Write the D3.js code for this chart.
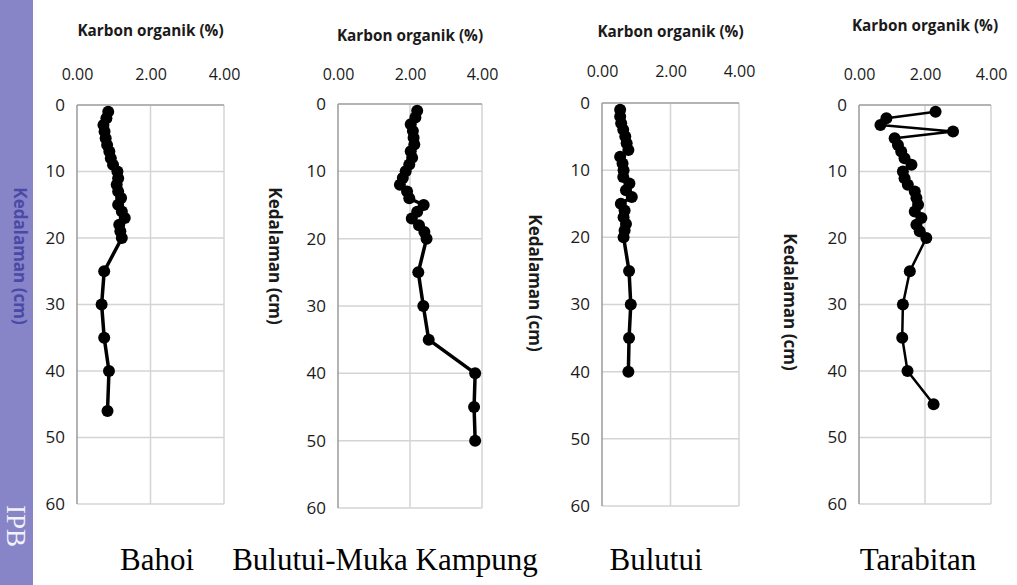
<!DOCTYPE html>
<html>
<head>
<meta charset="utf-8">
<script src="https://cdn.jsdelivr.net/npm/d3@7"></script>
<style>
  body { margin: 0; background: #fff; }
  svg { display: block; }
</style>
</head>
<body>
<svg width="1017" height="585"></svg>
<script>
const width = 1017;
const height = 585;

// depth (cm) and organic carbon (%) per site
const bahoiDepth = [1, 2, 3, 4, 5, 6, 7, 8, 9, 10, 11, 12, 13, 14, 15, 16, 17, 18, 19, 20, 25, 30, 35, 40, 46];
const bahoiC = [0.85, 0.80, 0.72, 0.75, 0.78, 0.82, 0.88, 0.92, 0.98, 1.10, 1.12, 1.08, 1.12, 1.20, 1.12, 1.22, 1.30, 1.15, 1.18, 1.22, 0.74, 0.67, 0.74, 0.87, 0.83];

const mukaDepth = [1, 2, 3, 4, 5, 6, 7, 8, 9, 10, 11, 12, 13, 14, 15, 16, 17, 18, 19, 20, 25, 30, 35, 40, 45, 50];
const mukaC = [2.20, 2.15, 2.02, 2.08, 2.10, 2.12, 2.02, 2.06, 1.98, 1.88, 1.80, 1.72, 1.92, 1.98, 2.38, 2.20, 2.05, 2.25, 2.40, 2.46, 2.23, 2.37, 2.52, 3.81, 3.78, 3.81];

const bulutuiDepth = [1, 2, 3, 4, 5, 6, 7, 8, 9, 10, 11, 12, 13, 14, 15, 16, 17, 18, 19, 20, 25, 30, 35, 40];
const bulutuiC = [0.53, 0.53, 0.56, 0.62, 0.68, 0.72, 0.77, 0.53, 0.60, 0.63, 0.62, 0.80, 0.70, 0.87, 0.55, 0.66, 0.63, 0.70, 0.66, 0.63, 0.79, 0.84, 0.79, 0.77];

const taraDepth = [1, 2, 3, 4, 5, 6, 7, 8, 9, 10, 11, 12, 13, 14, 15, 16, 17, 18, 19, 20, 25, 30, 35, 40, 45];
const taraC = [2.32, 0.83, 0.65, 2.85, 1.08, 1.18, 1.28, 1.38, 1.59, 1.33, 1.38, 1.48, 1.69, 1.74, 1.79, 1.69, 1.89, 1.74, 1.84, 2.04, 1.54, 1.33, 1.31, 1.47, 2.26];

const xTicks = [0, 2, 4];
const yTicks = [0, 10, 20, 30, 40, 50, 60];
const siteNames = ["Bahoi", "Bulutui-Muka Kampung", "Bulutui", "Tarabitan"];
const xTitle = "Karbon organik (%)";
const yTitle = "Kedalaman (cm)";

const panels = [
  {name: siteNames[0], depth: bahoiDepth, c: bahoiC, x0: 77, x1: 224, y0: 105, y1: 504, titleY: 30, tickY: 76, labelX: 157, yTitleX: 20, yTitleY: 256, stroke: 3.5},
  {name: siteNames[1], depth: mukaDepth, c: mukaC, x0: 338, x1: 482, y0: 104, y1: 508, titleY: 35, tickY: 76, labelX: 385, yTitleX: 275, yTitleY: 256, stroke: 3.5},
  {name: siteNames[2], depth: bulutuiDepth, c: bulutuiC, x0: 602, x1: 739, y0: 103, y1: 506, titleY: 31, tickY: 73, labelX: 656, yTitleX: 535, yTitleY: 283, stroke: 3.5},
  {name: siteNames[3], depth: taraDepth, c: taraC, x0: 859, x1: 991, y0: 105, y1: 504, titleY: 25, tickY: 76, labelX: 918, yTitleX: 790, yTitleY: 302, stroke: 2.5}
];

const svg = d3.select("svg");

// purple side strip with watermark
svg.append("rect").attr("x", 0).attr("y", 0).attr("width", 33).attr("height", height).attr("fill", "#8785c8");
svg.append("text")
  .attr("transform", "translate(7,505) rotate(90)")
  .attr("font-family", "Liberation Serif, serif")
  .attr("font-size", 27)
  .attr("fill", "#f2f2fa")
  .text("IPB");

panels.forEach(function (p, i) {
  const x = d3.scaleLinear().domain([0, 4]).range([p.x0, p.x1]);
  const y = d3.scaleLinear().domain([0, 60]).range([p.y0, p.y1]);
  const g = svg.append("g");

  // grid
  g.selectAll(".gx").data(xTicks.slice(1)).join("line")
    .attr("x1", d => x(d)).attr("x2", d => x(d))
    .attr("y1", p.y0).attr("y2", p.y1)
    .attr("stroke", "#d4d4d4").attr("stroke-width", 1.5);
  g.selectAll(".gy").data(yTicks).join("line")
    .attr("x1", p.x0).attr("x2", p.x1)
    .attr("y1", d => y(d)).attr("y2", d => y(d))
    .attr("stroke", "#d4d4d4").attr("stroke-width", 1.5);
  // axis lines
  g.append("line").attr("x1", p.x0).attr("x2", p.x0).attr("y1", p.y0).attr("y2", p.y1)
    .attr("stroke", "#9a9a9a").attr("stroke-width", 1.5);
  g.append("line").attr("x1", p.x0).attr("x2", p.x1).attr("y1", p.y0).attr("y2", p.y0)
    .attr("stroke", "#a6a6a6").attr("stroke-width", 1.5);

  // top axis labels
  const xAxis = d3.axisTop(x).tickValues(xTicks).tickFormat(d3.format(".2f")).tickSize(0);
  const ax = g.append("g").attr("transform", `translate(0,${p.tickY + 7})`).call(xAxis);
  ax.select(".domain").remove();
  ax.selectAll("text").attr("font-family", "Open Sans, sans-serif").attr("font-size", 16).attr("fill", "#1a1a1a");

  // left axis labels
  const yAxis = d3.axisLeft(y).tickValues(yTicks).tickSize(0).tickPadding(12);
  const ay = g.append("g").attr("transform", `translate(${p.x0},0)`).call(yAxis);
  ay.select(".domain").remove();
  ay.selectAll("text").attr("font-family", "Open Sans, sans-serif").attr("font-size", 17).attr("fill", "#1a1a1a");

  // titles
  g.append("text").attr("x", (p.x0 + p.x1) / 2).attr("y", p.titleY + 6)
    .attr("text-anchor", "middle")
    .attr("font-family", "Open Sans, sans-serif").attr("font-weight", "bold")
    .attr("font-size", 15.3).attr("fill", "#1a1a1a")
    .text(xTitle);
  g.append("text")
    .attr("transform", `translate(${p.yTitleX},${p.yTitleY}) rotate(90)`)
    .attr("text-anchor", "middle").attr("dy", "0.35em")
    .attr("font-family", "Open Sans, sans-serif").attr("font-weight", "bold")
    .attr("font-size", 17)
    .attr("fill", i === 0 ? "#4b49a6" : "#1a1a1a")
    .text(yTitle);

  // data
  const pts = p.depth.map((d, k) => ({depth: d, c: p.c[k]}));
  const line = d3.line().x(d => x(d.c)).y(d => y(d.depth));
  g.append("path").datum(pts).attr("d", line)
    .attr("fill", "none").attr("stroke", "#000").attr("stroke-width", p.stroke)
    .attr("stroke-linejoin", "round");
  g.selectAll(".pt").data(pts).join("circle")
    .attr("cx", d => x(d.c)).attr("cy", d => y(d.depth))
    .attr("r", 6).attr("fill", "#000");

  // site name
  svg.append("text").attr("x", p.labelX).attr("y", 570)
    .attr("text-anchor", "middle")
    .attr("font-family", "Liberation Serif, serif").attr("font-size", 31)
    .attr("fill", "#000")
    .text(p.name);
});
</script>
</body>
</html>
